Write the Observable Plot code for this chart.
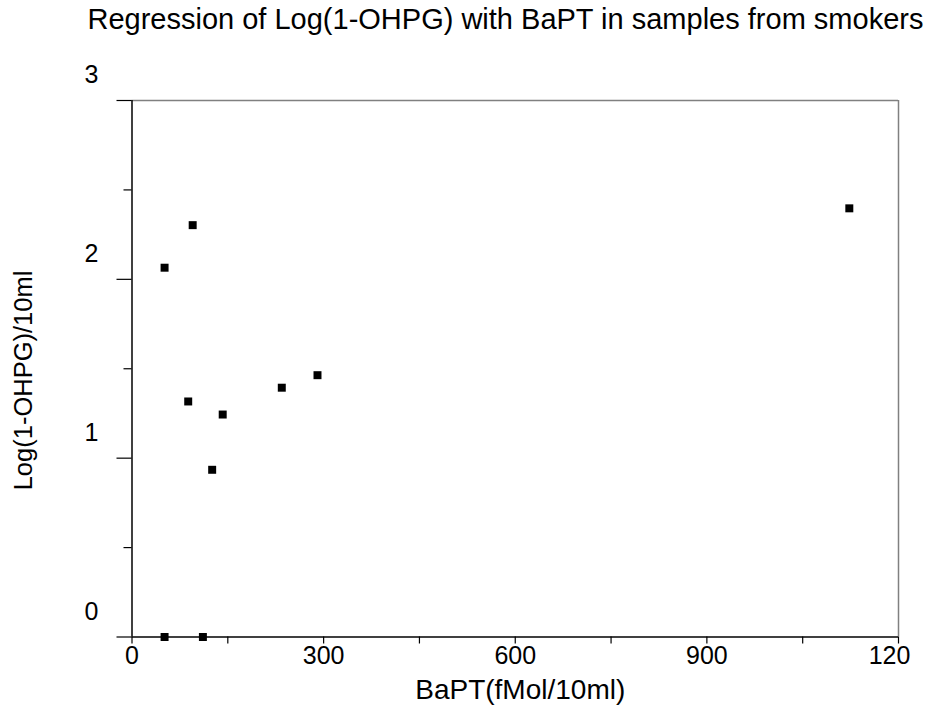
<!DOCTYPE html>
<html><head><meta charset="utf-8">
<script src="https://cdn.jsdelivr.net/npm/d3@7"></script>
<script src="https://cdn.jsdelivr.net/npm/@observablehq/plot@0.6"></script>
<style>body{margin:0;background:#fff} svg{font-family:Arial,"Liberation Sans",sans-serif}</style>
</head><body><div id="chart"></div>
<script>
const bapt = [51, 111, 95, 51, 88, 142, 125.5, 234.5, 290.4, 1123];
const logOhpg = [0, 0, 2.303, 2.065, 1.317, 1.244, 0.935, 1.394, 1.464, 2.397];
const xMajorTicks = [0, 300, 600, 900];
const xMajorLabels = ["0", "300", "600", "900"];
const xLastTick = [1200];
const xLastLabel = ["120"];
const xMinorTicks = [150, 450, 750, 1050];
const yMajorTicks = [0, 1, 2, 3];
const yMajorLabels = ["0", "1", "2", "3"];
const yMinorTicks = [0.5, 1.5, 2.5];
const titleText = "Regression of Log(1-OHPG) with BaPT in samples from smokers";
const xLabel = "BaPT(fMol/10ml)";
const yLabel = "Log(1-OHPG)/10ml";

const points = bapt.map((x, i) => ({x, y: logOhpg[i]}));

const chart = Plot.plot({
  width: 935,
  height: 711,
  marginLeft: 131.5,
  marginRight: 37,
  marginTop: 100,
  marginBottom: 74.5,
  style: {fontFamily: "Arial, 'Liberation Sans', sans-serif", fontSize: "25px", color: "#000", background: "#fff"},
  x: {domain: [0, 1200]},
  y: {domain: [0, 3]},
  marks: [
    Plot.ruleY([3], {stroke: "#808080", strokeWidth: 1.5}),
    Plot.ruleX([1200], {stroke: "#808080", strokeWidth: 1.5}),
    Plot.ruleX([0], {stroke: "#000", strokeWidth: 1.5}),
    Plot.ruleY([0], {stroke: "#000", strokeWidth: 1.5}),
    Plot.axisX({ticks: xMajorTicks, tickFormat: d => xMajorLabels[xMajorTicks.indexOf(d)], tickSize: 7, tickPadding: 2, label: null, fontSize: 25, strokeWidth: 1.2}),
    Plot.axisX({ticks: xLastTick, tickFormat: () => "", tickSize: 7, label: null, strokeWidth: 1.2}),
    Plot.axisX({ticks: xLastTick, tickFormat: d => xLastLabel[xLastTick.indexOf(d)], tickSize: 0, tickPadding: 9, dx: -9, label: null, fontSize: 25}),
    Plot.axisX({ticks: xMinorTicks, tickFormat: () => "", tickSize: 7, label: null, strokeWidth: 1.2}),
    Plot.axisY({ticks: yMajorTicks, tickFormat: () => "", tickSize: 15, label: null, strokeWidth: 1.2}),
    Plot.axisY({ticks: yMajorTicks, tickFormat: d => yMajorLabels[yMajorTicks.indexOf(d)], tickSize: 0, tickPadding: 33.5, dy: -25.5, label: null, fontSize: 25}),
    Plot.axisY({ticks: yMinorTicks, tickFormat: () => "", tickSize: 8, label: null, strokeWidth: 1.2}),
    Plot.dot(points, {x: "x", y: "y", symbol: "square", r: 4.5, fill: "#000", stroke: "none"}),
    Plot.text([titleText], {frameAnchor: "top-left", textAnchor: "start", lineAnchor: "middle", dx: -44.5, dy: -81, fontSize: 29, fill: "#000"}),
    Plot.text([xLabel], {frameAnchor: "bottom", textAnchor: "middle", lineAnchor: "middle", dx: 5, dy: 53.5, fontSize: 28, fill: "#000"}),
    Plot.text([yLabel], {frameAnchor: "left", textAnchor: "middle", rotate: -90, lineAnchor: "middle", dx: -108, dy: 11.75, fontSize: 25.5, fill: "#000"})
  ]
});
document.getElementById("chart").appendChild(chart);
</script>
</body></html>
